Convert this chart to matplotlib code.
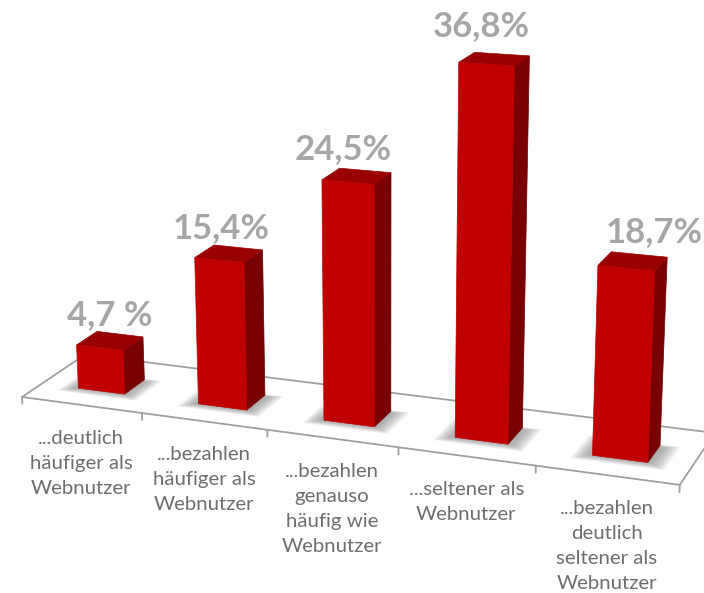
#!/usr/bin/env python3

import numpy as np
import matplotlib
matplotlib.use('Agg')
import matplotlib.pyplot as plt
from matplotlib.patches import Polygon

categories = [
    '...deutlich\nhäufiger als\nWebnutzer',
    '...bezahlen\nhäufiger als\nWebnutzer',
    '...bezahlen\ngenauso\nhäufig wie\nWebnutzer',
    '...seltener als\nWebnutzer',
    '...bezahlen\ndeutlich\nseltener als\nWebnutzer',
]
values = [4.7, 15.4, 24.5, 36.8, 18.7]
value_labels = ['4,7 %', '15,4%', '24,5%', '36,8%', '18,7%']

# label nudges in pixels, the original has them dragged by hand
label_dx = [0, -8, -13, -13, 22]
label_dy = [1, 1, 0, -6, -2]

# camera: columns are category axis, depth, value, origin (x, y, w)
camera = np.array([
    [116.9, 1334 * 0.0504, -0.00126 * 385, 22.0],
    [7.12, -486 * 0.0504, -0.00126 * 7700, 397.0],
    [-0.02156, 0.0504, -0.00126, 1.0],
])


def project(u, v, h=0.0):
    x, y, w = camera @ np.array([u, v, h, 1.0])
    return x / w, y / w


fig = plt.figure(figsize=(7.04, 5.93), dpi=100)
ax = fig.add_axes([0, 0, 1, 1])
ax.set_xlim(0, 704)
ax.set_ylim(593, 0)
ax.axis('off')

# floor
n = len(values)
floor_color = '#a0a0a0'
outline = [project(0, 1), project(0, 0), project(n, 0), project(n, 1), project(0, 1)]
ax.plot(*zip(*outline), color=floor_color, lw=1.3, zorder=1)
for i in range(n + 1):
    ax.plot(*zip(project(i, 0), project(i, 0, -0.7)), color=floor_color, lw=1.3, zorder=1)

bar_u = 0.31
bar_w = 0.39
v0 = 0.31
v1 = 0.64

for i, val in enumerate(values):
    u0 = i + bar_u
    u1 = u0 + bar_w

    # soft shadow, stacked polygons from wide to narrow
    steps = 12
    for k in range(steps):
        t = 1 - k / (steps - 1)
        sh = [project(u0 - 0.03 - 0.10 * t, v0 - 0.01 - 0.09 * t),
              project(u1 + 0.03 + 0.11 * t, v0 - 0.01 - 0.09 * t),
              project(u1 + 0.03 + 0.11 * t, v1 - 0.03 + 0.05 * t),
              project(u0 - 0.03 - 0.10 * t, v1 - 0.03 + 0.05 * t)]
        ax.add_patch(Polygon(sh, closed=True, fc='#808080', ec='none', alpha=0.07, zorder=2))

    front = [project(u0, v0), project(u1, v0), project(u1, v0, val), project(u0, v0, val)]
    side = [project(u1, v0), project(u1, v1), project(u1, v1, val), project(u1, v0, val)]
    top = [project(u0, v0, val), project(u1, v0, val), project(u1, v1, val), project(u0, v1, val)]
    ax.add_patch(Polygon(side, closed=True, fc='#780000', ec='#780000', lw=0.5, zorder=3))
    ax.add_patch(Polygon(top, closed=True, fc='#990000', ec='#990000', lw=0.5, zorder=3))
    ax.add_patch(Polygon(front, closed=True, fc='#c00000', ec='#c00000', lw=0.5, zorder=4))

    # value label above the bar
    tx, ty = project(i + bar_u + bar_w / 2, (v0 + v1) / 2, val)
    ax.text(tx + label_dx[i], ty - 27 + label_dy[i], value_labels[i], fontsize=25,
            fontweight='bold', family='Lato', color='#a6a6a6', ha='center', va='center', zorder=5)

    # category label under the axis
    cx, cy = project(i + 0.5, 0)
    ax.text(cx, cy + 25, categories[i], fontsize=14.7, family='Lato', color='#6e6e6e',
            ha='center', va='top', linespacing=1.57, zorder=5)

fig.savefig('out.png', dpi=100)
